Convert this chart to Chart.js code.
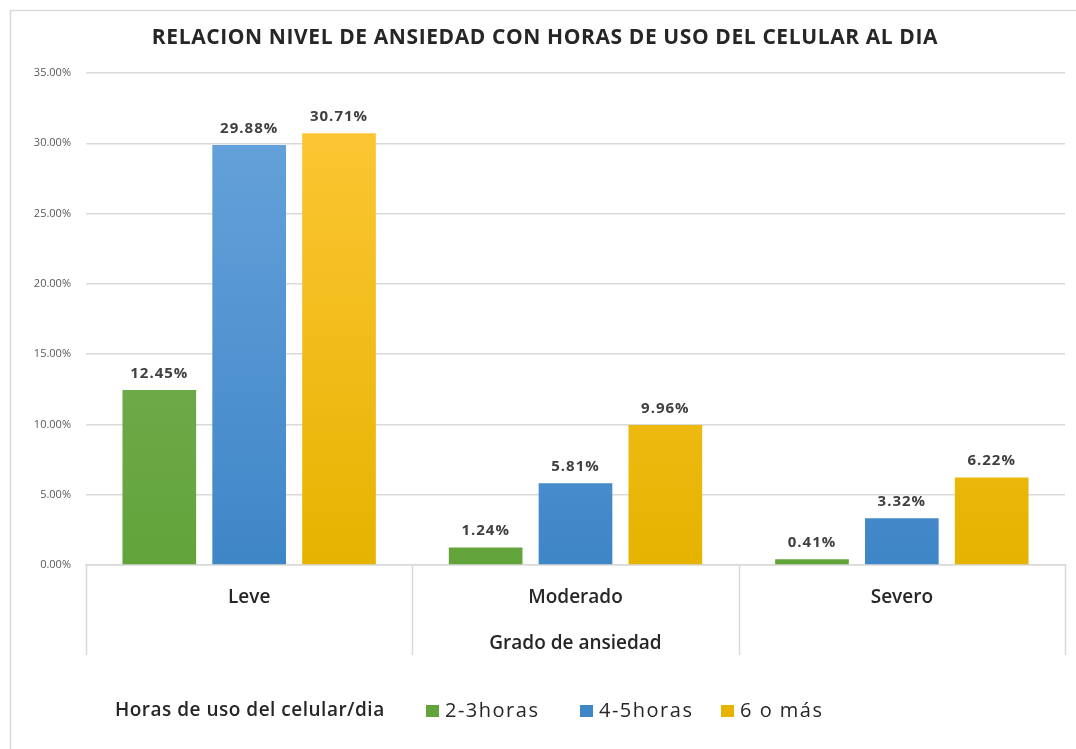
<!DOCTYPE html>
<html>
<head>
<meta charset="utf-8">
<script src="https://cdn.jsdelivr.net/npm/chart.js@4.4.1/dist/chart.umd.min.js"></script>
<style>
  body { margin: 0; background: #fff; }
  #wrap { width: 1076px; height: 749px; position: relative; }
</style>
</head>
<body>
<div id="wrap"><canvas id="myChart" width="1076" height="749"></canvas></div>
<script>
// chart data
const categories = ['Leve', 'Moderado', 'Severo'];
const seriesNames = ['2-3horas', '4-5horas', '6 o más'];
const horas23 = [0.1245, 0.0124, 0.0041];
const horas45 = [0.2988, 0.0581, 0.0332];
const horas6 = [0.3071, 0.0996, 0.0622];
const chartTitle = 'RELACION NIVEL DE ANSIEDAD CON HORAS DE USO DEL CELULAR AL DIA';
const xTitle = 'Grado de ansiedad';
const legendTitle = 'Horas de uso del celular/dia';

const FONT = "'Open Sans', 'Noto Sans', sans-serif";

// top / bottom colours for the excel-like gradient
const palette = [
    ['#80b662', '#62a33a'],
    ['#6aa5dd', '#3f86c7'],
    ['#ffc83a', '#e6b300']
];

function gradientFor(i) {
    return function (context) {
        const chart = context.chart;
        const area = chart.chartArea;
        if (!area) return palette[i][1];
        const g = chart.ctx.createLinearGradient(0, area.top, 0, area.bottom);
        g.addColorStop(0, palette[i][0]);
        g.addColorStop(1, palette[i][1]);
        return g;
    };
}

const pct = v => (v * 100).toFixed(2) + '%';

// value labels above bars, title, plot box lines and legend
const extras = {
    id: 'extras',
    beforeDraw(chart) {
        const ctx = chart.ctx;
        ctx.save();
        ctx.strokeStyle = '#d9d9d9';
        ctx.lineWidth = 1.5;
        ctx.beginPath();
        ctx.moveTo(10.5, 760);
        ctx.lineTo(10.5, 10.5);
        ctx.lineTo(1076, 10.5);
        ctx.stroke();
        ctx.restore();
    },
    afterDatasetsDraw(chart) {
        const ctx = chart.ctx;
        ctx.save();
        ctx.font = 'bold 15px ' + FONT;
        ctx.letterSpacing = '1px';
        ctx.fillStyle = '#404040';
        ctx.textAlign = 'center';
        ctx.textBaseline = 'bottom';
        chart.data.datasets.forEach((ds, i) => {
            chart.getDatasetMeta(i).data.forEach((bar, j) => {
                ctx.fillText(pct(ds.data[j]), bar.x, bar.y - 9);
            });
        });
        ctx.restore();
    },
    afterDraw(chart) {
        const ctx = chart.ctx;
        const x = chart.scales.x;
        ctx.save();
        // title
        ctx.font = 'bold 21px ' + FONT;
        ctx.letterSpacing = '0.6px';
        ctx.fillStyle = '#262626';
        ctx.textAlign = 'center';
        ctx.textBaseline = 'middle';
        ctx.fillText(chartTitle, 545, 38);

        // category separators under the axis
        ctx.strokeStyle = '#d9d9d9';
        ctx.lineWidth = 1.5;
        const step = x.width / categories.length;
        for (let i = 0; i <= categories.length; i++) {
            const px = Math.round(x.left + i * step) + 0.5;
            ctx.beginPath();
            ctx.moveTo(px, x.top);
            ctx.lineTo(px, x.top + 90);
            ctx.stroke();
        }

        // legend
        const ly = 711;
        ctx.textAlign = 'left';
        ctx.fillStyle = '#262626';
        ctx.font = '600 19px ' + FONT;
        ctx.letterSpacing = '0.5px';
        ctx.fillText(legendTitle, 115, ly);
        ctx.font = '500 20px ' + FONT;
        ctx.letterSpacing = '1.5px';
        const keyX = [426, 580, 721];
        seriesNames.forEach((name, i) => {
            ctx.fillStyle = palette[i][1];
            ctx.fillRect(keyX[i], ly - 6, 13, 12);
            ctx.fillStyle = '#262626';
            ctx.fillText(name, keyX[i] + 19, ly);
        });
        ctx.restore();
    }
};

const ctx = document.getElementById('myChart').getContext('2d');
new Chart(ctx, {
    type: 'bar',
    data: {
        labels: categories,
        datasets: [
            { label: seriesNames[0], data: horas23, backgroundColor: gradientFor(0) },
            { label: seriesNames[1], data: horas45, backgroundColor: gradientFor(1) },
            { label: seriesNames[2], data: horas6, backgroundColor: gradientFor(2) }
        ]
    },
    options: {
        responsive: false,
        animation: false,
        datasets: {
            bar: { categoryPercentage: 0.826, barPercentage: 0.82 }
        },
        layout: {
            padding: { top: 73, right: 11, bottom: 94, left: 0 }
        },
        plugins: {
            legend: { display: false },
            title: { display: false },
            tooltip: { enabled: false }
        },
        scales: {
            x: {
                grid: { display: false },
                border: { display: true, color: '#d9d9d9', width: 1.5 },
                ticks: {
                    color: '#262626',
                    font: { family: FONT, size: 19, weight: '600' },
                    padding: 13
                },
                title: {
                    display: true,
                    text: xTitle,
                    color: '#262626',
                    font: { family: FONT, size: 19, weight: '600' },
                    padding: { top: 12, bottom: 0 }
                },
                afterFit(scale) { scale.height = 90; }
            },
            y: {
                min: 0,
                max: 0.35,
                grid: { color: '#d9d9d9', lineWidth: 1.5, drawTicks: false },
                border: { display: false },
                ticks: {
                    stepSize: 0.05,
                    color: '#595959',
                    font: { family: FONT, size: 11 },
                    padding: 15,
                    callback: v => pct(v)
                },
                afterFit(scale) { scale.width = 86; }
            }
        }
    },
    plugins: [extras]
});
</script>
</body>
</html>
